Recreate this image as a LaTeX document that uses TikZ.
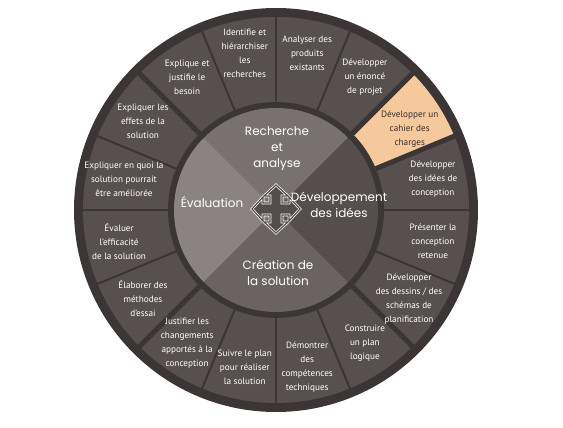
\documentclass[tikz,border=0pt]{standalone}
\usepackage{fontspec}
\setmainfont{PT Sans}
\newfontfamily\centrofont{Poppins}
\usepackage{xcolor}

\definecolor{oscuro}{RGB}{60,53,53}
\definecolor{casilla}{RGB}{88,80,80}
\definecolor{naranja}{RGB}{246,201,156}
\definecolor{textonar}{RGB}{55,45,45}
\definecolor{qeval}{RGB}{139,131,131}
\definecolor{qrech}{RGB}{121,113,113}
\definecolor{qcrea}{RGB}{107,99,99}
\definecolor{qdev}{RGB}{86,78,78}
\definecolor{flecha}{RGB}{84,76,76}

\tikzset{
  etiqueta/.style={align=center, text=white, font=\fontsize{9.2}{14}\selectfont},
  centro/.style={align=center, text=white, font=\centrofont\fontsize{12}{16}\selectfont},
}

\begin{document}
\begin{tikzpicture}[x=1pt,y=1pt]
        \useasboundingbox (-276,-218) rectangle (287,210);
        \def\Rext{202}
        \def\Rcas{193}
        \def\Rint{108}
        \def\Rnuc{102}
        \fill[oscuro] (0,0) circle [radius=\Rext]; % borde exterior
        \fill[casilla] (0,0) circle [radius=\Rcas];
        \fill[naranja] (22.5:\Rint) -- (22.5:\Rcas) arc [start angle=22.5, end angle=45, radius=\Rcas]
              -- (45:\Rint) arc [start angle=45, end angle=22.5, radius=\Rint] -- cycle; % cahier des charges
        \foreach \a in {0,22.5,...,337.5}
        \draw[oscuro, line width=2pt] (\a:\Rint) -- (\a:\Rcas+2);
        \foreach \a in {22.5,45,135,225,315}
        \draw[oscuro, line width=5pt] (\a:\Rint) -- (\a:\Rcas+2);
        \fill[oscuro] (0,0) circle [radius=\Rint]; % anillo interior
        \fill[qrech] (0,0) -- (45:\Rnuc) arc [start angle=45, end angle=135, radius=\Rnuc] -- cycle;
        \fill[qeval] (0,0) -- (135:\Rnuc) arc [start angle=135, end angle=225, radius=\Rnuc] -- cycle;
        \fill[qcrea] (0,0) -- (225:\Rnuc) arc [start angle=225, end angle=315, radius=\Rnuc] -- cycle;
        \fill[qdev] (0,0) -- (-45:\Rnuc) arc [start angle=-45, end angle=45, radius=\Rnuc] -- cycle;
        % flecha central
        \def\sa{6}
        \def\sb{12}
        \def\sh{13}
        \def\sl{24}
        \filldraw[fill=flecha, draw=white, double=flecha, double distance=1.2pt, line width=0.7pt, shift={(0,1)}]
              (\sa,\sa) -- (\sa,\sh) -- (\sb,\sh) -- (0,\sl) -- (-\sb,\sh) -- (-\sa,\sh) -- (-\sa,\sa)
              -- (-\sh,\sa) -- (-\sh,\sb) -- (-\sl,0) -- (-\sh,-\sb) -- (-\sh,-\sa) -- (-\sa,-\sa)
              -- (-\sa,-\sh) -- (-\sb,-\sh) -- (0,-\sl) -- (\sb,-\sh) -- (\sa,-\sh) -- (\sa,-\sa)
              -- (\sh,-\sa) -- (\sh,-\sb) -- (\sl,0) -- (\sh,\sb) -- (\sh,\sa) -- cycle;
        \node[centro] (recherche) at (1,61) {Recherche\\et\\analyse};
        \node[centro] (evaluation) at (-64,8) {Évaluation};
        \node[centro] (developpement) at (63,5) {Développement\\des idées};
        \node[centro] (creation) at (2,-63) {Création de\\la solution};
        % casillas
        \foreach \txt [count=\i] in {
              {Identifie et\\hiérarchiser\\les\\recherches},
              {Analyser des\\produits\\existants},
              {Développer\\un énoncé\\de projet},
              {Développer un\\cahier des\\charges},
              {Développer\\des idées de\\conception},
              {Présenter la\\conception\\retenue},
              {Développer\\des dessins / des\\schémas de\\planification},
              {Construire\\un plan\\logique},
              {Démontrer\\des\\compétences\\techniques},
              {Suivre le plan\\pour réaliser\\la solution},
              {Justifier les\\changements\\apportés à la\\conception},
              {Élaborer des\\méthodes\\d'essai},
              {Évaluer\\l'efficacité\\de la solution},
              {Expliquer en quoi la\\solution pourrait\\être améliorée},
              {Expliquer les\\effets de la\\solution},
              {Explique et\\justifie le\\besoin}}
        {
          \pgfmathsetmacro{\ang}{123.75-22.5*\i}
          \def\rad{160}
          \ifnum\i=4 \def\tc{textonar}\def\ang{31}\def\rad{156}\else\def\tc{white}\fi
          \ifnum\i=14 \def\rad{155}\fi
          \node[etiqueta, text=\tc] (casilla\i) at (\ang:\rad) {\txt};
        }
\end{tikzpicture}
\end{document}
